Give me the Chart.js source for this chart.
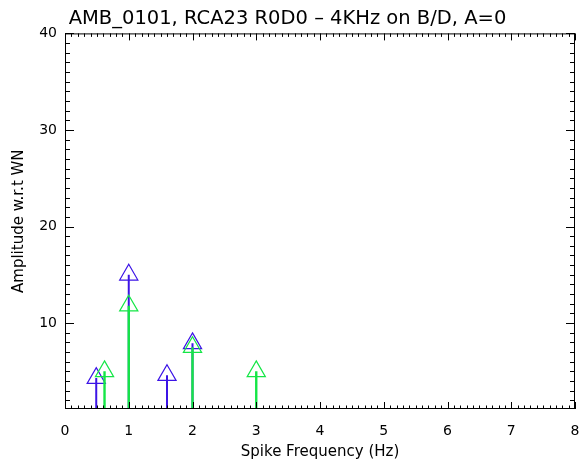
<!DOCTYPE html>
<html>
<head>
<meta charset="utf-8">
<script src="https://cdn.jsdelivr.net/npm/chart.js@4"></script>
<style>
  html, body { margin: 0; padding: 0; background: #fff; }
  #wrap { width: 588px; height: 468px; }
</style>
</head>
<body>
<div id="wrap"><canvas id="spikechart" width="588" height="468"></canvas></div>
<script>
// spike data
const blueFreq = [0.49, 1.0, 1.6, 2.0];
const blueAmp = [4.3, 15.0, 4.6, 7.9];
const greenFreq = [0.62, 1.0, 2.0, 3.0];
const greenAmp = [5.0, 11.8, 7.5, 5.0];

const xTicks = [0, 1, 2, 3, 4, 5, 6, 7, 8];
const yTicks = [10, 20, 30, 40];
const yMin = 1.1;
const yMax = 40;

const blueColor = '#3c14e6';
const greenColor = '#14e646';

// stems: vertical line from the bottom of the plot to each amplitude
function stems(freq, amp) {
    return freq.flatMap((f, i) => [
        { x: f, y: yMin },
        { x: f, y: amp[i] },
        { x: f, y: null }
    ]);
}
function heads(freq, amp) {
    return freq.map((f, i) => ({ x: f, y: amp[i] }));
}

// IDL style box with minor ticks on all sides
const boxTicks = {
    id: 'boxTicks',
    afterDraw(chart) {
        const { ctx, chartArea: a, scales } = chart;
        const xs = scales.x, ys = scales.y;
        ctx.save();
        ctx.strokeStyle = '#000';
        ctx.lineWidth = 1;
        ctx.strokeRect(a.left + 0.5, a.top + 0.5, a.right - a.left - 1, a.bottom - a.top - 1);
        ctx.beginPath();
        for (let i = 0; i <= 80; i++) {
            const px = Math.round(xs.getPixelForValue(i / 10)) + 0.5;
            const len = i % 10 === 0 ? 7 : 3.5;
            ctx.moveTo(px, a.bottom);
            ctx.lineTo(px, a.bottom - len);
            ctx.moveTo(px, a.top);
            ctx.lineTo(px, a.top + len);
        }
        for (let v = 2; v <= 40; v++) {
            const py = Math.round(ys.getPixelForValue(v)) + 0.5;
            const len = v % 10 === 0 ? 9 : 5;
            ctx.moveTo(a.left, py);
            ctx.lineTo(a.left + len, py);
            ctx.moveTo(a.right, py);
            ctx.lineTo(a.right - len, py);
        }
        ctx.stroke();
        ctx.restore();
    }
};

Chart.defaults.font.family = "'DejaVu Sans', sans-serif";
Chart.defaults.color = '#000';

const ctx = document.getElementById('spikechart').getContext('2d');

// higher order is drawn first, so green sits on top of blue
const spikeChart = new Chart(ctx, {
    type: 'line',
    data: {
        datasets: [
            {
                label: 'blue stems',
                data: stems(blueFreq, blueAmp),
                borderColor: blueColor,
                borderWidth: 2,
                pointRadius: 0,
                spanGaps: false,
                order: 4
            },
            {
                label: 'blue heads',
                data: heads(blueFreq, blueAmp),
                showLine: false,
                pointStyle: 'triangle',
                pointRadius: 10.5,
                borderColor: blueColor,
                backgroundColor: 'rgba(0,0,0,0)',
                pointBorderWidth: 1.2,
                order: 3
            },
            {
                label: 'green stems',
                data: stems(greenFreq, greenAmp),
                borderColor: greenColor,
                borderWidth: 2.4,
                pointRadius: 0,
                spanGaps: false,
                order: 2
            },
            {
                label: 'green heads',
                data: heads(greenFreq, greenAmp),
                showLine: false,
                pointStyle: 'triangle',
                pointRadius: 10.5,
                borderColor: greenColor,
                backgroundColor: 'rgba(0,0,0,0)',
                pointBorderWidth: 1.2,
                order: 1
            }
        ]
    },
    options: {
        responsive: false,
        animation: false,
        layout: { padding: { top: 0, right: 13, left: 0, bottom: 0 } },
        plugins: {
            legend: { display: false },
            tooltip: { enabled: false },
            title: {
                display: true,
                text: 'AMB_0101, RCA23 R0D0 \u2013 4KHz on B/D, A=0',
                font: { size: 19.5, weight: 'normal' },
                padding: { top: 7, bottom: 3 }
            }
        },
        scales: {
            x: {
                type: 'linear',
                min: 0,
                max: 8,
                grid: { display: false },
                border: { display: false },
                afterBuildTicks: (scale) => { scale.ticks = xTicks.map(v => ({ value: v })); },
                afterFit: (scale) => { scale.height = 59; },
                ticks: { font: { size: 14 }, padding: 6, maxRotation: 0 },
                title: {
                    display: true,
                    text: 'Spike Frequency (Hz)',
                    font: { size: 15 },
                    padding: { top: 2, bottom: 7 }
                }
            },
            y: {
                type: 'linear',
                min: yMin,
                max: yMax,
                grid: { display: false },
                border: { display: false },
                afterBuildTicks: (scale) => { scale.ticks = yTicks.map(v => ({ value: v })); },
                afterFit: (scale) => { scale.width = 65; },
                ticks: { font: { size: 14 }, padding: 0 },
                title: {
                    display: true,
                    text: 'Amplitude w.r.t WN',
                    font: { size: 15 },
                    padding: { top: 10, bottom: 0 }
                }
            }
        }
    },
    plugins: [boxTicks]
});
</script>
</body>
</html>
